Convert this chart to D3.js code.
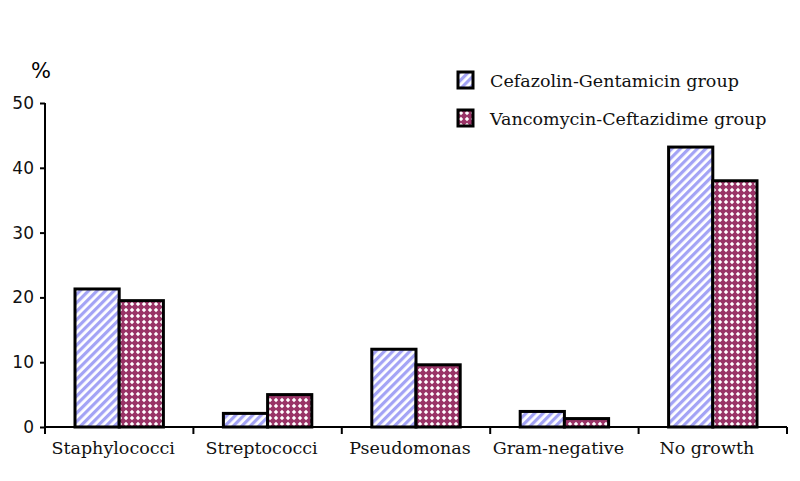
<html>
<head>
<meta charset="utf-8">
<style>
  body { margin: 0; background: #fff; }
  .tick text { font-family: "DejaVu Sans", sans-serif; font-size: 17px; fill: #111; }
  .cat { font-family: "DejaVu Serif", serif; font-size: 17.5px; fill: #111; }
  .legend text { font-family: "DejaVu Serif", serif; font-size: 17.5px; fill: #111; }
</style>
</head>
<body>
<script src="https://cdn.jsdelivr.net/npm/d3@7/dist/d3.min.js"></script>
<script>
// data
var categories = ["Staphylococci", "Streptococci", "Pseudomonas", "Gram-negative", "No growth"];
var groups = ["Cefazolin-Gentamicin group", "Vancomycin-Ceftazidime group"];
var cefazolin = [21.3, 2.1, 12, 2.4, 43.2];
var vancomycin = [19.5, 5, 9.6, 1.3, 38];
var yTicks = [0, 10, 20, 30, 40, 50];

var svg = d3.select("body").append("svg")
    .attr("width", 800)
    .attr("height", 481);

// patterns
var defs = svg.append("defs");
var stripe = defs.append("pattern")
    .attr("id", "stripe")
    .attr("patternUnits", "userSpaceOnUse")
    .attr("width", 6).attr("height", 6)
    .attr("patternTransform", "rotate(45)");
stripe.append("rect").attr("width", 6).attr("height", 6).attr("fill", "#fff");
stripe.append("rect").attr("width", 3.2).attr("height", 6).attr("fill", "#a3a3f5");

var dots = defs.append("pattern")
    .attr("id", "dots")
    .attr("patternUnits", "userSpaceOnUse")
    .attr("width", 6).attr("height", 6);
dots.append("rect").attr("width", 6).attr("height", 6).attr("fill", "#993366");
dots.append("path").attr("d", "M3,0.8L5.2,3L3,5.2L0.8,3Z").attr("fill", "#fff");

var margin = {left: 45, top: 103, right: 13, bottom: 54};
var width = 800 - margin.left - margin.right,
    height = 481 - margin.top - margin.bottom;

var g = svg.append("g").attr("transform", "translate(" + margin.left + "," + margin.top + ")");

var x = d3.scaleBand().domain(categories).range([0, width]).paddingInner(0).paddingOuter(0);
var x1 = d3.scaleBand().domain(groups).range([30, x.bandwidth() - 30]);
var y = d3.scaleLinear().domain([0, 50]).range([height, 0]);

var series = [
  {name: groups[0], values: cefazolin, fill: "url(#stripe)"},
  {name: groups[1], values: vancomycin, fill: "url(#dots)"}
];

// bars
series.forEach(function(s) {
  g.append("g").selectAll("rect")
    .data(s.values)
    .enter().append("rect")
      .attr("x", function(d, i) { return x(categories[i]) + x1(s.name); })
      .attr("y", function(d) { return y(d); })
      .attr("width", x1.bandwidth())
      .attr("height", function(d) { return height - y(d); })
      .attr("fill", s.fill)
      .attr("stroke", "#000")
      .attr("stroke-width", 3);
});

// y axis
var yAxis = g.append("g")
    .call(d3.axisLeft(y).tickValues(yTicks).tickSize(5).tickPadding(6));
yAxis.select(".domain").attr("stroke-width", 2).attr("d", "M0," + height + "V0");
yAxis.selectAll(".tick line").attr("stroke-width", 2);

// x axis: ticks at band boundaries
var xAxis = g.append("g").attr("transform", "translate(0," + height + ")");
xAxis.append("line").attr("x1", 0).attr("x2", width).attr("stroke", "#000").attr("stroke-width", 2);
xAxis.selectAll(".xt")
  .data(categories.concat([null]))
  .enter().append("line")
    .attr("x1", function(d, i) { return i * x.bandwidth(); })
    .attr("x2", function(d, i) { return i * x.bandwidth(); })
    .attr("y1", 0).attr("y2", 7)
    .attr("stroke", "#000").attr("stroke-width", 2);
xAxis.selectAll(".cat")
  .data(categories)
  .enter().append("text")
    .attr("class", "cat")
    .attr("x", function(d) { return x(d) + x.bandwidth() / 2 - 6; })
    .attr("y", 27)
    .attr("text-anchor", "middle")
    .text(function(d) { return d; });

// % label
svg.append("text")
    .attr("x", 31).attr("y", 78)
    .style("font-family", "DejaVu Sans, sans-serif")
    .style("font-size", "21px")
    .text("%");

// legend
var legend = svg.append("g").attr("class", "legend")
    .attr("transform", "translate(458,72)");
series.forEach(function(s, i) {
  var row = legend.append("g").attr("transform", "translate(0," + (i * 38) + ")");
  row.append("rect").attr("width", 15).attr("height", 16)
    .attr("fill", s.fill).attr("stroke", "#000").attr("stroke-width", 3);
  row.append("text").attr("x", 32).attr("y", 15).text(s.name);
});
</script>
</body>
</html>
